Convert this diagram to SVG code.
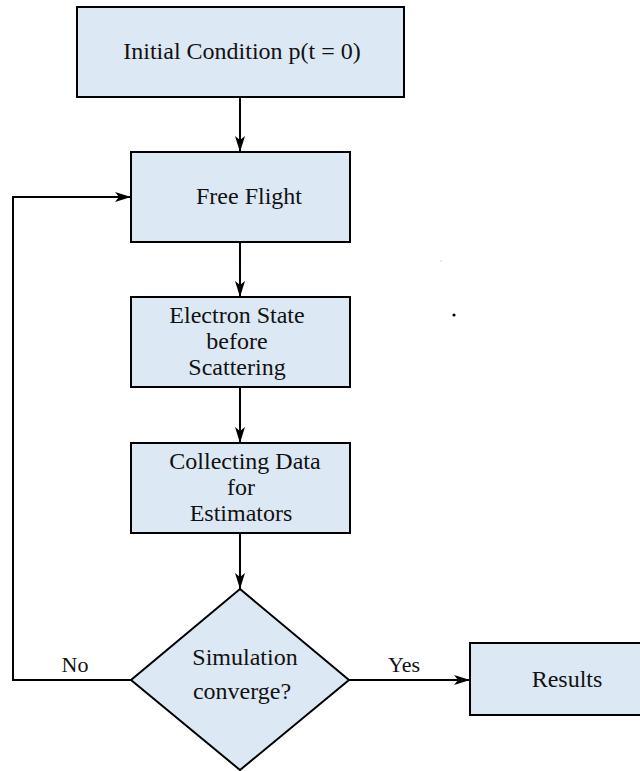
<svg xmlns="http://www.w3.org/2000/svg" width="640" height="771" viewBox="0 0 640 771">
<style>
.box{fill:#dde8f5;stroke:#000;stroke-width:2}
.c{fill:none;stroke:#000;stroke-width:2}
.t{font-family:'Liberation Serif',serif;font-size:24px;fill:#111;text-anchor:middle}
.s{font-size:22px}
</style>
<defs>
<marker id="ah" viewBox="0 0 16 10" refX="16" refY="5" markerWidth="16" markerHeight="10" markerUnits="userSpaceOnUse" orient="auto">
<path d="M0,0 L16,5 L0,10 L4,5 Z" fill="#000"/>
</marker>
</defs>
<rect width="640" height="771" fill="#fff"/>
<g id="connectors">
<line class="c" x1="240" y1="97" x2="240" y2="152" marker-end="url(#ah)"/>
<line class="c" x1="240" y1="242" x2="240" y2="297" marker-end="url(#ah)"/>
<line class="c" x1="240" y1="387" x2="240" y2="443" marker-end="url(#ah)"/>
<line class="c" x1="240" y1="533" x2="240" y2="589" marker-end="url(#ah)"/>
<line class="c" x1="349" y1="680" x2="470" y2="680" marker-end="url(#ah)"/>
<polyline class="c" points="131,680 13,680 13,197 131,197" marker-end="url(#ah)"/>
<text class="t s" x="75" y="672">No</text>
<text class="t s" x="404" y="672">Yes</text>
</g>
<g id="n1"><rect class="box" x="77" y="7" width="327" height="90"/><text class="t" x="242" y="59">Initial Condition p(t = 0)</text></g>
<g id="n2"><rect class="box" x="131" y="152" width="219" height="90"/><text class="t" x="249" y="204">Free Flight</text></g>
<g id="n3"><rect class="box" x="131" y="297" width="219" height="90"/><text class="t" x="237" y="323">Electron State</text><text class="t" x="237" y="349">before</text><text class="t" x="237" y="375">Scattering</text></g>
<g id="n4"><rect class="box" x="131" y="443" width="219" height="90"/><text class="t" x="245" y="469">Collecting Data</text><text class="t" x="241" y="495">for</text><text class="t" x="241" y="521">Estimators</text></g>
<g id="n5"><polygon class="box" points="240,589 349,680 240,770 131,680"/><text class="t" x="245" y="665">Simulation</text><text class="t" x="242" y="699">converge?</text></g>
<g id="n6"><rect class="box" x="470" y="643" width="175" height="72"/><text class="t" x="567" y="687">Results</text></g>
<circle cx="441" cy="261" r="0.6" fill="#999"/>
<circle cx="454" cy="315" r="1.6" fill="#000"/>
</svg>
